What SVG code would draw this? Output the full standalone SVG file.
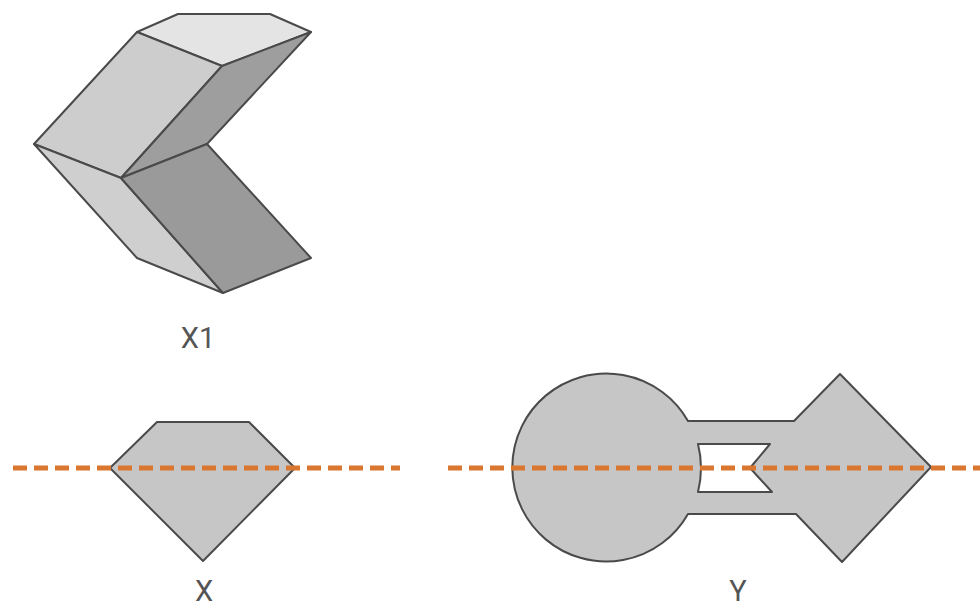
<svg xmlns="http://www.w3.org/2000/svg" width="980" height="609" viewBox="0 0 980 609">
<style>
.s{stroke:#4a4a4a;stroke-width:2;stroke-linejoin:round}
.f{fill:#c6c6c6}
.t{font-family:Roboto,"Liberation Sans",sans-serif;font-size:29px;fill:#555;text-anchor:middle}
.d{fill:none;stroke:#d9762f;stroke-width:5;stroke-dasharray:14 7}
</style>
<rect width="980" height="609" fill="#fff"/>
<g id="X1">
<path class="s" fill="#e4e4e4" d="M137 32L178 14H270L311 32L222 66Z"/>
<path class="s" fill="#cdcdcd" d="M137 32L222 66L121 178L34 144Z"/>
<path class="s" fill="#9e9e9e" d="M222 66L311 32L207 144L121 178Z"/>
<path class="s" fill="#cfcfcf" d="M34 144L121 178L223 293L137 258Z"/>
<path class="s" fill="#9a9a9a" d="M121 178L207 144L311 258L223 293Z"/>
<text class="t" x="198" y="348">X1</text>
</g>
<g id="X">
<path class="s f" d="M157 422H249L295 468L203 561L110 468Z"/>
<text class="t" x="204" y="601">X</text>
</g>
<g id="Y">
<path class="s f" fill-rule="evenodd" d="M688 421A94 94 0 1 0 688 514H796L842 562L931 467L840 374L794 421ZM698 444H770L750 468L772 492H698Q704 468 698 444Z"/>
<text class="t" x="738" y="601">Y</text>
</g>
<g id="connectors">
<path class="d" d="M13 468H400"/>
<path class="d" d="M448 468H980"/>
</g>
</svg>
